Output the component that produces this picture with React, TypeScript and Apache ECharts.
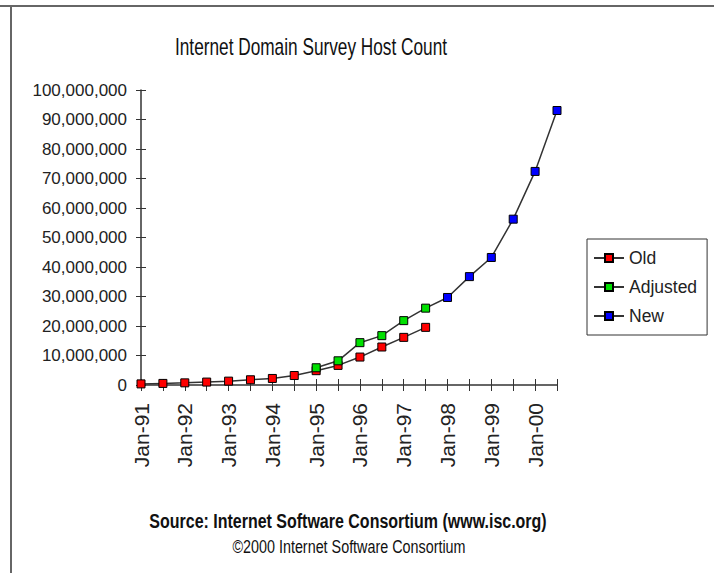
import React, { useEffect, useRef } from "react";
import * as echarts from "echarts";

const categories = [
  "Jan-91", "Jul-91", "Jan-92", "Jul-92", "Jan-93", "Jul-93", "Jan-94", "Jul-94",
  "Jan-95", "Jul-95", "Jan-96", "Jul-96", "Jan-97", "Jul-97", "Jan-98", "Jul-98",
  "Jan-99", "Jul-99", "Jan-00", "Jul-00",
];

const oldValues = [
  376000, 535000, 727000, 992000, 1313000, 1776000, 2217000, 3212000,
  4852000, 6642000, 9472000, 12881000, 16146000, 19540000,
  null, null, null, null, null, null,
];

const adjustedValues = [
  null, null, null, null, null, null, null, null,
  5846000, 8200000, 14352000, 16729000, 21819000, 26053000,
  null, null, null, null, null, null,
];

const newValues = [
  null, null, null, null, null, null, null, null, null, null, null, null, null,
  26053000, 29670000, 36739000, 43230000, 56218000, 72398092, 93047785,
];

const titleText = "Internet Domain Survey Host Count";
const sourceText = "Source: Internet Software Consortium (www.isc.org)";
const copyrightText = "\u00A92000 Internet Software Consortium";

const SANS = "'Liberation Sans', Arial, sans-serif";

export default function App() {
  const ref = useRef<HTMLDivElement>(null);
  useEffect(() => {
    if (!ref.current) return;
    const chart = echarts.init(ref.current, null, { renderer: "svg" });
    const lineColor = "#333";
    const mkSeries = (name: string, data: (number | null)[], color: string, z: number, hideFirst = false) => ({
      name,
      type: "line",
      data: data.map((v, i) =>
        hideFirst && v !== null && i === data.findIndex((d) => d !== null)
          ? { value: v, symbol: "none" }
          : v
      ),
      symbol: "rect",
      symbolSize: 8,
      showAllSymbol: true,
      connectNulls: false,
      z,
      lineStyle: { color: lineColor, width: 1.5 },
      itemStyle: { color, borderColor: "#000", borderWidth: 1 },
      emphasis: { disabled: true },
    });
    const centeredText = (text: string, x: number, y: number, font: string, scaleX: number) => ({
      type: "text",
      x,
      y,
      scaleX,
      style: {
        text,
        font,
        fill: "#111",
        align: "center",
        verticalAlign: "middle",
        textAlign: "center",
        textVerticalAlign: "middle",
      },
    });
    chart.setOption({
      animation: false,
      backgroundColor: "#fff",
      grid: { left: 141, right: 157, top: 90, bottom: 188, containLabel: false },
      xAxis: [
        {
          type: "category",
          data: categories,
          boundaryGap: false,
          position: "bottom",
          axisLine: { show: true, lineStyle: { color: lineColor, width: 1.5 } },
          axisTick: { show: true, interval: 0, length: 6, lineStyle: { color: lineColor } },
          axisLabel: {
            interval: 1,
            rotate: 90,
            margin: 18,
            fontFamily: SANS,
            fontSize: 21,
            color: "#222",
          },
          splitLine: { show: false },
        },
        {
          type: "category",
          data: categories,
          boundaryGap: false,
          position: "bottom",
          axisLine: { show: false },
          axisTick: { show: true, inside: true, interval: 0, length: 6, lineStyle: { color: lineColor } },
          axisLabel: { show: false },
          splitLine: { show: false },
        },
      ],
      yAxis: [
        {
          type: "value",
          min: 0,
          max: 100000000,
          interval: 10000000,
          position: "left",
          axisLine: { show: true, lineStyle: { color: lineColor, width: 1.5 } },
          axisTick: { show: true, length: 5, lineStyle: { color: lineColor } },
          axisLabel: {
            margin: 14,
            fontFamily: SANS,
            fontSize: 17,
            color: "#222",
            formatter: (v: number) => v.toLocaleString("en-US"),
          },
          splitLine: { show: false },
        },
        {
          type: "value",
          min: 0,
          max: 100000000,
          interval: 10000000,
          position: "left",
          axisLine: { show: false },
          axisTick: { show: true, inside: true, length: 5, lineStyle: { color: lineColor } },
          axisLabel: { show: false },
          splitLine: { show: false },
        },
      ],
      legend: {
        orient: "vertical",
        left: 587,
        top: 239,
        data: ["Old", "Adjusted", "New"],
        borderColor: "#333",
        borderWidth: 1,
        padding: [9, 10, 9, 6],
        itemGap: 9,
        itemWidth: 30,
        itemHeight: 10,
        textStyle: { fontFamily: SANS, fontSize: 17.5, color: "#222", lineHeight: 20 },
      },
      series: [
        mkSeries("Old", oldValues, "#ff0000", 3),
        mkSeries("Adjusted", adjustedValues, "#00e000", 4),
        mkSeries("New", newValues, "#0000ff", 2, true),
      ],
      graphic: [
        { type: "line", shape: { x1: 0, y1: 6, x2: 714, y2: 6 }, style: { stroke: "#666", lineWidth: 2 } },
        { type: "line", shape: { x1: 11, y1: 6, x2: 11, y2: 573 }, style: { stroke: "#666", lineWidth: 2 } },
        centeredText(titleText, 311, 47, `23px ${SANS}`, 0.75),
        centeredText(sourceText, 348, 521, `bold 19.5px ${SANS}`, 0.82),
        centeredText(copyrightText, 349, 547, `17.5px ${SANS}`, 0.82),
      ],
    });
    return () => chart.dispose();
  }, []);
  return (
    <div
      ref={ref}
      style={{ position: "absolute", left: 0, top: 0, width: 714, height: 573 }}
    />
  );
}
